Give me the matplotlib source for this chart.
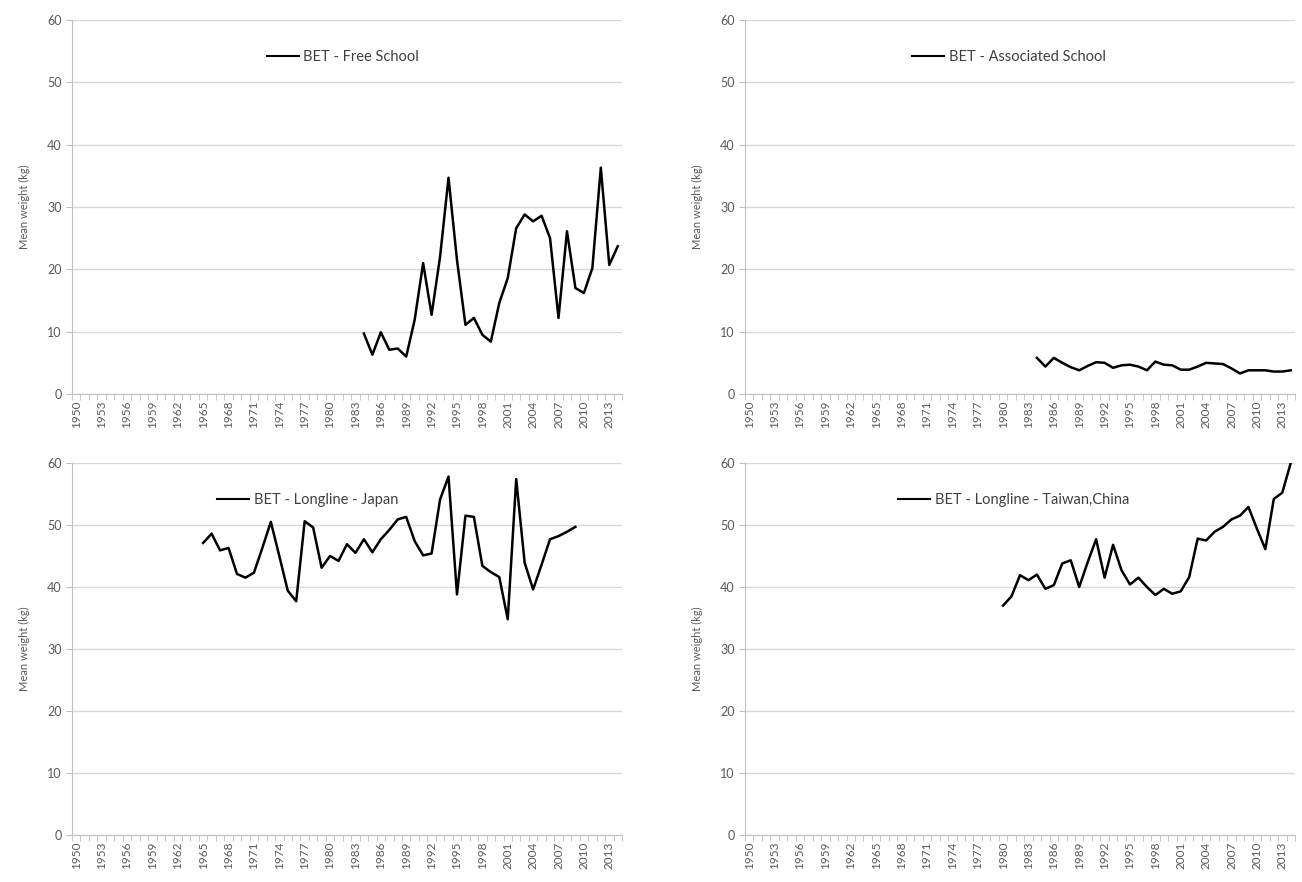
import numpy as np
import matplotlib
matplotlib.use("Agg")
import matplotlib.pyplot as plt

plt.rcParams['font.family'] = ['Lato', 'DejaVu Sans']

years = list(range(1950, 2015))
tick_years = list(range(1950, 2015, 3))

free_school_start = 1984
free_school = [9.7, 6.3, 9.9, 7.1, 7.3, 6.0, 11.9, 21.0, 12.7, 22.0, 34.7, 21.5,
               11.1, 12.2, 9.5, 8.4, 14.6, 18.6, 26.6, 28.8, 27.7, 28.6, 25.0,
               12.2, 26.1, 17.0, 16.2, 20.2, 36.3, 20.7, 23.7]

assoc_school_start = 1984
assoc_school = [5.8, 4.4, 5.8, 5.0, 4.3, 3.8, 4.5, 5.1, 5.0, 4.2, 4.6, 4.7, 4.4,
                3.8, 5.2, 4.7, 4.6, 3.9, 3.9, 4.4, 5.0, 4.9, 4.8, 4.1, 3.3, 3.8,
                3.8, 3.8, 3.6, 3.6, 3.8]

japan_start = 1965
japan = [47.1, 48.6, 45.9, 46.3, 42.1, 41.5, 42.3, 46.3, 50.5, 45.0, 39.4, 37.7,
         50.6, 49.6, 43.1, 45.0, 44.2, 46.9, 45.5, 47.7, 45.6, 47.7, 49.2, 50.9,
         51.3, 47.4, 45.1, 45.4, 54.1, 57.8, 38.8, 51.5, 51.3, 43.4, 42.4, 41.6,
         34.8, 57.4, 43.9, 39.6, 43.6, 47.7, 48.2, 48.9, 49.7]

taiwan_start = 1980
taiwan = [37.0, 38.5, 41.9, 41.1, 42.0, 39.7, 40.3, 43.8, 44.3, 40.0, 44.0, 47.7,
          41.5, 46.8, 42.7, 40.4, 41.5, 40.0, 38.7, 39.7, 38.9, 39.3, 41.6, 47.8,
          47.5, 48.9, 49.7, 50.9, 51.5, 52.9, 49.4, 46.1, 54.2, 55.2, 60.0]

panels = [
    ("BET - Free School", free_school_start, free_school, [0.0553, 0.5533, 0.4224, 0.424], 0.33),
    ("BET - Associated School", assoc_school_start, assoc_school, [0.5722, 0.5533, 0.4224, 0.424], 0.28),
    ("BET - Longline - Japan", japan_start, japan, [0.0553, 0.0533, 0.4224, 0.4218], 0.24),
    ("BET - Longline - Taiwan,China", taiwan_start, taiwan, [0.5722, 0.0533, 0.4224, 0.4218], 0.255),
]

fig = plt.figure(figsize=(13.02, 8.82), dpi=100)
grey = "#595959"

for name, start, vals, rect, lx in panels:
    ax = fig.add_axes(rect)
    x = np.arange(len(vals)) + (start - years[0])
    ax.plot(x, vals, color="black", lw=1.8, label=name)
    ax.set_xlim(-0.5, len(years) - 0.5)
    ax.set_ylim(0, 60)
    ax.set_yticks(range(0, 61, 10))
    ax.set_xticks([y - years[0] for y in tick_years])
    ax.set_xticklabels([str(y) for y in tick_years], rotation=90, fontsize=8.5, color=grey)
    ax.set_xticks(np.arange(-0.5, len(years), 1), minor=True)
    ax.tick_params(axis='x', which='major', length=0, pad=5)
    ax.tick_params(axis='x', which='minor', length=4, color="#bfbfbf")
    ax.tick_params(axis='y', length=4, color="#bfbfbf", labelsize=9, labelcolor=grey)
    ax.grid(axis='y', color="#d9d9d9", lw=1)
    ax.set_axisbelow(True)
    for s in ("top", "right"):
        ax.spines[s].set_visible(False)
    ax.spines["left"].set_color("#bfbfbf")
    ax.spines["bottom"].set_color("#bfbfbf")
    ax.set_ylabel("Mean weight (kg)", fontsize=8, color=grey, labelpad=12)
    leg = ax.legend(loc="upper left", bbox_to_anchor=(lx, 0.955), frameon=False,
                    fontsize=10.5, handlelength=2.2, handletextpad=0.3,
                    labelcolor="#404040")
    for h in leg.get_lines():
        h.set_linewidth(1.5)

fig.savefig("out.png", dpi=100)
